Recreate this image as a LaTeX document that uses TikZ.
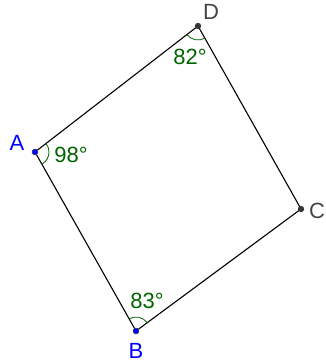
\documentclass[tikz,border=0pt]{standalone}
\usepackage{fontspec}
\setmainfont{Liberation Sans}
\definecolor{ptblue}{RGB}{0,0,255}
\definecolor{ptgray}{RGB}{68,68,68}
\definecolor{anggreen}{RGB}{0,100,0}
\usetikzlibrary{angles}
\tikzset{
  lbl/.style={font=\fontsize{22}{22}\selectfont,inner sep=0pt},
  anglbl/.style={lbl,text=anggreen},
  angarc/.style={draw=anggreen,line width=0.8pt,angle radius=14pt}
}

\begin{document}
\begin{tikzpicture}[x=1pt,y=-1pt]
      \useasboundingbox (0,0) rectangle (325,363);
      \coordinate (A) at (35,152);
      \coordinate (D) at (198,26);
      \coordinate (C) at (301,209);
      \coordinate (B) at (136,331);
      \draw[line width=1.1pt] (A) -- (D) -- (C) -- (B) -- cycle;
      \pic[angarc] {angle=B--A--D};
      \pic[angarc] {angle=A--D--C};
      \pic[angarc] {angle=C--B--A};
      \fill[ptblue,draw=black!70,line width=0.5pt] (A) circle (3);
      \fill[ptblue,draw=black!70,line width=0.5pt] (B) circle (3);
      \fill[ptgray!80!black] (D) circle (3.2);
      \fill[ptgray!80!black] (C) circle (3.2);
      \node[lbl,text=ptblue] (labA) at (17,143) {A};
      \node[lbl,text=ptblue] (labB) at (136,351) {B};
      \node[lbl,text=ptgray] (labC) at (317,211) {C};
      \node[lbl,text=ptgray] (labD) at (211,12) {D};
      \node[anglbl] (angA) at (71,155) {98°};
      \node[anglbl] (angD) at (190,57) {82°};
      \node[anglbl] (angB) at (147,301) {83°};
    \end{tikzpicture}
\end{document}
